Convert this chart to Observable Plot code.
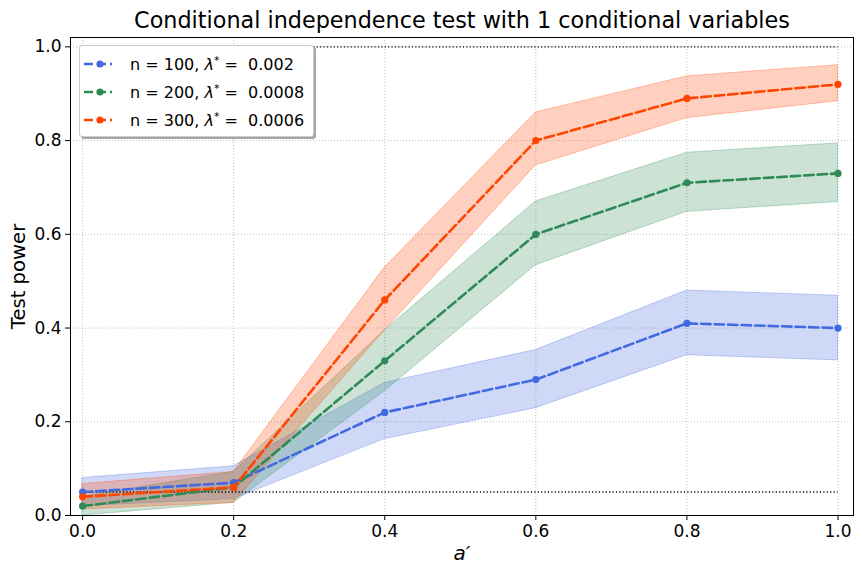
<!DOCTYPE html>
<html>
<head>
<meta charset="utf-8">
<script src="https://cdn.jsdelivr.net/npm/d3@7"></script>
<script src="https://cdn.jsdelivr.net/npm/@observablehq/plot@0.6"></script>
<style>
  body { margin: 0; background: #fff; font-family: "DejaVu Sans", sans-serif; }
  #wrap { position: relative; width: 864px; height: 576px; }
  #legend { position: absolute; left: 79px; top: 45px; width: 233px; height: 90px;
    background: #fff; border: 1px solid #cccccc; border-radius: 3px;
    box-shadow: 2px 2px 0 rgba(0,0,0,0.35); font-size: 16px; color: #000; }
  .row { position: absolute; left: 0; height: 22px; display: flex; align-items: center; }
  .row svg { margin-left: 4px; }
  .row span { margin-left: 16px; white-space: pre; }
</style>
</head>
<body>
<div id="wrap"></div>
<script>
const aValues = [0, 0.2, 0.4, 0.6, 0.8, 1.0];
const seriesNames = ["n = 100", "n = 200", "n = 300"];
const lambdaLabels = ["0.002", "0.0008", "0.0006"];
const colors = ["#4169E1", "#2E8B57", "#FF4500"];

const power100 = [0.05, 0.07, 0.22, 0.29, 0.41, 0.40];
const lower100 = [0.02, 0.035, 0.163, 0.229, 0.342, 0.331];
const upper100 = [0.08, 0.105, 0.283, 0.353, 0.48, 0.469];

const power200 = [0.02, 0.06, 0.33, 0.60, 0.71, 0.73];
const lower200 = [0.0, 0.027, 0.265, 0.534, 0.648, 0.669];
const upper200 = [0.04, 0.093, 0.395, 0.67, 0.774, 0.794];

const power300 = [0.04, 0.06, 0.46, 0.80, 0.89, 0.92];
const lower300 = [0.013, 0.027, 0.395, 0.747, 0.848, 0.884];
const upper300 = [0.067, 0.093, 0.529, 0.86, 0.937, 0.961];

const refLevels = [0.05, 1.0];
const xTicks = [0, 0.2, 0.4, 0.6, 0.8, 1.0];
const yTicks = [0, 0.2, 0.4, 0.6, 0.8, 1.0];

const powers = [power100, power200, power300];
const lowers = [lower100, lower200, lower300];
const uppers = [upper100, upper200, upper300];

const rows = [];
seriesNames.forEach((s, i) => {
  aValues.forEach((a, j) => rows.push({series: s, a, p: powers[i][j], lo: lowers[i][j], hi: uppers[i][j]}));
});

const font = "DejaVu Sans";

const marks = [
  Plot.gridX(xTicks, {stroke: "#b0b0b0", strokeOpacity: 1, strokeWidth: 0.8, strokeDasharray: "1,2"}),
  Plot.gridY(yTicks, {stroke: "#b0b0b0", strokeOpacity: 1, strokeWidth: 0.8, strokeDasharray: "1,2"}),
];
seriesNames.forEach((s, i) => {
  const d = rows.filter(r => r.series === s);
  marks.push(Plot.areaY(d, {x: "a", y1: "lo", y2: "hi", fill: colors[i], fillOpacity: 0.25,
    stroke: colors[i], strokeOpacity: 0.3, strokeWidth: 1, curve: "linear"}));
});
marks.push(Plot.ruleY(refLevels, {x1: 0, x2: 1, stroke: "#000", strokeWidth: 1.4, strokeDasharray: "1.2,2.2"}));
seriesNames.forEach((s, i) => {
  const d = rows.filter(r => r.series === s);
  marks.push(Plot.line(d, {x: "a", y: "p", stroke: colors[i], strokeWidth: 2.6, strokeDasharray: "9.5,4"}));
  marks.push(Plot.dot(d, {x: "a", y: "p", fill: colors[i], r: 3.6, stroke: "none"}));
});
marks.push(
  Plot.frame({stroke: "#000", strokeWidth: 1}),
  Plot.axisX(xTicks, {tickFormat: d3.format(".1f"), tickSize: 5, tickPadding: 4, fontSize: 17, label: null, fill: "#000"}),
  Plot.axisY(yTicks, {tickFormat: d3.format(".1f"), tickSize: 5, tickPadding: 4, fontSize: 17, label: null, fill: "#000"}),
  Plot.text(["Conditional independence test with 1 conditional variables"], {frameAnchor: "top", lineAnchor: "middle", dy: -17, fontSize: 22.3, fill: "#000"}),
  Plot.text(["a′"], {frameAnchor: "bottom", lineAnchor: "middle", dy: 38, fontSize: 20, fontStyle: "italic", fill: "#000"}),
  Plot.text(["Test power"], {frameAnchor: "left", textAnchor: "middle", lineAnchor: "middle", dx: -52, rotate: -90, fontSize: 19.6, fill: "#000"})
);

const chart = Plot.plot({
  width: 864, height: 576,
  marginLeft: 70, marginRight: 11, marginTop: 37, marginBottom: 61,
  style: {fontFamily: font, background: "#fff", color: "#000", overflow: "visible"},
  x: {domain: [-0.016, 1.0205]},
  y: {domain: [0, 1.02]},
  marks
});
const wrap = document.getElementById("wrap");
wrap.appendChild(chart);

const legend = document.createElement("div");
legend.id = "legend";
seriesNames.forEach((s, i) => {
  const row = document.createElement("div");
  row.className = "row";
  row.style.top = (7 + i * 28) + "px";
  row.innerHTML = `<svg width="30" height="10"><line x1="0" y1="5" x2="28" y2="5" stroke="${colors[i]}" stroke-width="2.6" stroke-dasharray="9,4"/><circle cx="16" cy="5" r="3.6" fill="${colors[i]}"/></svg><span>${s}, <i>λ</i><sup style="font-size:11px">*</sup> =  ${lambdaLabels[i]}</span>`;
  legend.appendChild(row);
});
wrap.appendChild(legend);
</script>
</body>
</html>
